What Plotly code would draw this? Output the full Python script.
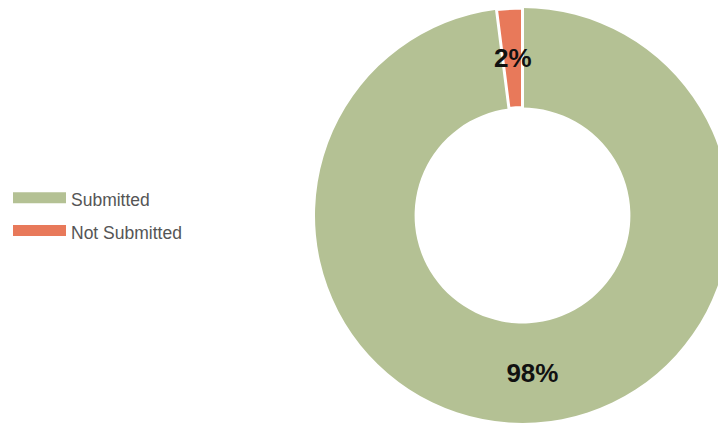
import math
import plotly.graph_objects as go

labels = ["Submitted", "Not Submitted"]
values = [98, 2]
text_labels = ["98%", "2%"]
colors = ["#b4c194", "#e8795a"]

W, H = 726, 425
HOLE = 0.52
DOM_X = [307 / W, 722 / W]
DOM_Y = [10 / H, 1.0]
LABEL_FONT = dict(family="Liberation Sans, Arial, sans-serif", size=26, color="#111111", weight="bold")

fig = go.Figure()

fig.add_trace(go.Pie(
    labels=labels,
    values=values,
    text=[text_labels[0], ""],
    textinfo="text",
    textposition="inside",
    insidetextorientation="horizontal",
    textfont=LABEL_FONT,
    hole=HOLE,
    sort=False,
    direction="clockwise",
    rotation=0,
    marker=dict(colors=colors, line=dict(color="#ffffff", width=[0, 3])),
    domain=dict(x=DOM_X, y=DOM_Y),
    showlegend=False,
    hoverinfo="label+percent",
))

# label for the thin slice, placed at the middle of the ring on its bisector
cx = (DOM_X[0] + DOM_X[1]) / 2 * W
cy = (1 - (DOM_Y[0] + DOM_Y[1]) / 2) * H
R = min((DOM_X[1] - DOM_X[0]) * W, (DOM_Y[1] - DOM_Y[0]) * H) / 2
rmid = R * (1 + HOLE) / 2
total = sum(values)
mid_frac = (values[0] + values[1] / 2) / total
ang = 2 * math.pi * mid_frac  # clockwise from 12 o'clock
px = cx + rmid * math.sin(ang)
py = cy - rmid * math.cos(ang)
fig.add_annotation(
    x=px / W, y=1 - py / H, xref="paper", yref="paper",
    text=text_labels[1], showarrow=False,
    font=LABEL_FONT,
    xanchor="center", yanchor="middle",
)

# legend swatches (wide bars, like the reference)
for i, (lab, col) in enumerate(zip(labels, colors)):
    fig.add_trace(go.Scatter(
        x=[None], y=[None], mode="lines", name=lab,
        line=dict(color=col, width=13),
        fill="toself", fillcolor=col,
        legendgroup=f"g{i}", showlegend=True, hoverinfo="skip",
    ))

fig.update_layout(
    width=W, height=H,
    margin=dict(l=0, r=0, t=0, b=0),
    paper_bgcolor="#ffffff",
    plot_bgcolor="#ffffff",
    xaxis=dict(visible=False),
    yaxis=dict(visible=False),
    uniformtext=dict(minsize=26, mode="show"),
    legend=dict(
        x=0, y=0.511, xanchor="left", yanchor="middle",
        font=dict(family="Liberation Sans, Arial, sans-serif", size=17.5, color="#555555"),
        itemwidth=53,
        tracegroupgap=7,
        bgcolor="rgba(0,0,0,0)",
    ),
)

fig.write_html("out.html")
